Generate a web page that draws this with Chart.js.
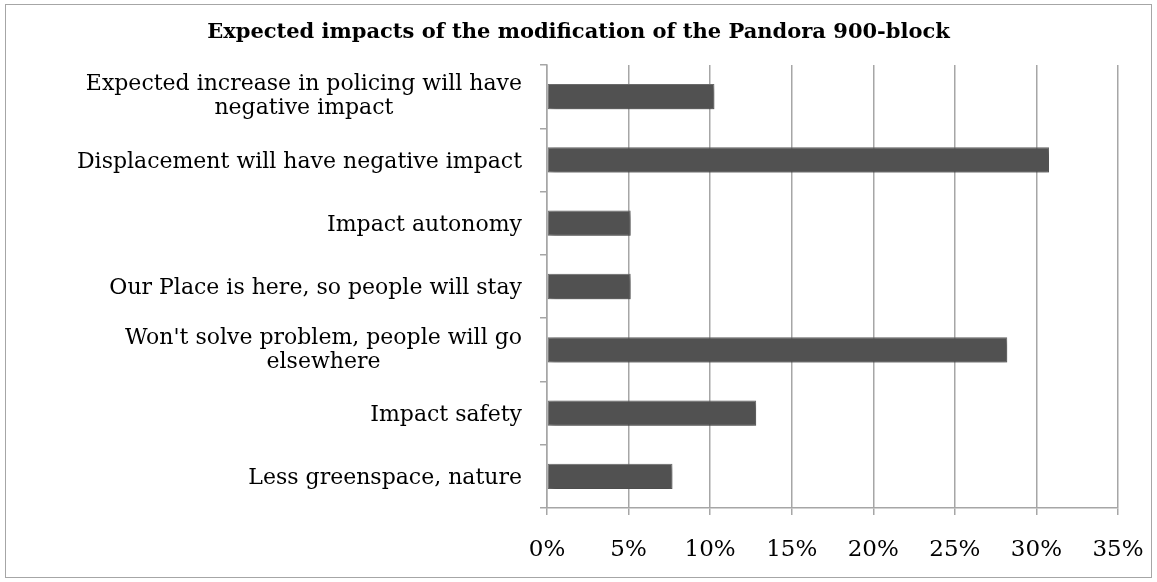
<!DOCTYPE html>
<html>
<head>
<meta charset="utf-8">
<script src="https://cdn.jsdelivr.net/npm/chart.js@4.4.1/dist/chart.umd.min.js"></script>
<style>
  html, body { margin: 0; padding: 0; background: #ffffff; }
  #wrap { position: relative; width: 1157px; height: 582px; }
</style>
</head>
<body>
<div id="wrap"><canvas id="c" width="1157" height="582"></canvas></div>
<script>
const categories = [
  ["Expected increase in policing will have", "negative impact"],
  "Displacement will have negative impact",
  "Impact autonomy",
  "Our Place is here, so people will stay",
  ["Won't solve problem, people will go", "elsewhere"],
  "Impact safety",
  "Less greenspace, nature"
];
const shares = [0.1026, 0.3077, 0.0513, 0.0513, 0.2821, 0.1282, 0.0769];
const xTickMax = 0.35;
const xTickStep = 0.05;
const titleText = "Expected impacts of the modification of the Pandora 900-block";

const serif = "'DejaVu Serif', 'Liberation Serif', serif";
const catFontSize = 22;
const catLineGap = 24;
const catLabelGap = 25; // space between label block and axis line

const framePlugin = {
  id: 'frame',
  beforeDraw(chart) {
    const ctx = chart.ctx;
    ctx.save();
    ctx.fillStyle = '#ffffff';
    ctx.fillRect(0, 0, chart.width, chart.height);
    ctx.strokeStyle = '#a6a6a6';
    ctx.lineWidth = 1;
    ctx.strokeRect(5.5, 4.5, 1146, 573);
    ctx.restore();
  }
};

const shadowPlugin = {
  id: 'barShadow',
  beforeDatasetsDraw(chart) {
    const ctx = chart.ctx;
    ctx.save();
    ctx.shadowColor = 'rgba(0,0,0,0.4)';
    ctx.shadowBlur = 6;
    ctx.shadowOffsetX = 2;
    ctx.shadowOffsetY = 3;
  },
  afterDatasetsDraw(chart) {
    chart.ctx.restore();
  }
};

// Category labels: right-aligned blocks whose lines are centred on each other
const categoryLabelPlugin = {
  id: 'categoryLabels',
  afterDraw(chart) {
    const ctx = chart.ctx;
    const yScale = chart.scales.y;
    const right = yScale.right - catLabelGap;
    ctx.save();
    ctx.font = catFontSize + 'px ' + serif;
    ctx.fillStyle = '#000000';
    ctx.textAlign = 'center';
    ctx.textBaseline = 'middle';
    chart.data.labels.forEach((lab, i) => {
      const lines = Array.isArray(lab) ? lab : [lab];
      const widths = lines.map(l => ctx.measureText(l).width);
      const maxW = Math.max(...widths);
      const cx = right - maxW / 2;
      const yc = yScale.getPixelForValue(i) + (lines.length === 1 ? 2 : 0);
      const y0 = yc - (lines.length - 1) * catLineGap / 2;
      lines.forEach((l, k) => ctx.fillText(l, cx, y0 + k * catLineGap));
    });
    ctx.restore();
  }
};

new Chart(document.getElementById('c'), {
  type: 'bar',
  data: {
    labels: categories,
    datasets: [{
      data: shares,
      backgroundColor: '#515151',
      borderColor: '#707070',
      borderWidth: 1,
      borderSkipped: false,
      categoryPercentage: 1.0,
      barPercentage: 0.4
    }]
  },
  options: {
    indexAxis: 'y',
    responsive: false,
    animation: false,
    devicePixelRatio: 1,
    layout: { padding: { left: 0, right: 0, top: 0, bottom: 0 } },
    plugins: {
      legend: { display: false },
      tooltip: { enabled: false },
      title: {
        display: true,
        text: titleText,
        color: '#000000',
        font: { family: serif, size: 21, weight: 'bold', lineHeight: 1.2 },
        padding: { top: 20, bottom: 19.8 }
      }
    },
    scales: {
      x: {
        type: 'linear',
        position: 'bottom',
        min: 0,
        max: xTickMax,
        ticks: {
          stepSize: xTickStep,
          color: '#000000',
          font: { family: serif, size: 23 },
          padding: 21,
          maxRotation: 0,
          callback: (v) => Math.round(v * 100) + '%'
        },
        grid: {
          color: '#a6a6a6',
          lineWidth: 1.5,
          tickLength: 7,
          drawOnChartArea: true
        },
        border: { display: true, color: '#a6a6a6', width: 1.5 },
        afterFit(scale) {
          scale.height = 74;
          scale.paddingLeft = 0;
          scale.paddingRight = 39;
        }
      },
      y: {
        type: 'category',
        position: 'left',
        ticks: { display: false },
        grid: {
          offset: true,
          drawOnChartArea: false,
          color: '#a6a6a6',
          lineWidth: 1.5,
          tickLength: 7
        },
        border: { display: true, color: '#a6a6a6', width: 1.5 },
        afterFit(scale) { scale.width = 547; }
      }
    }
  },
  plugins: [framePlugin, shadowPlugin, categoryLabelPlugin]
});
</script>
</body>
</html>
